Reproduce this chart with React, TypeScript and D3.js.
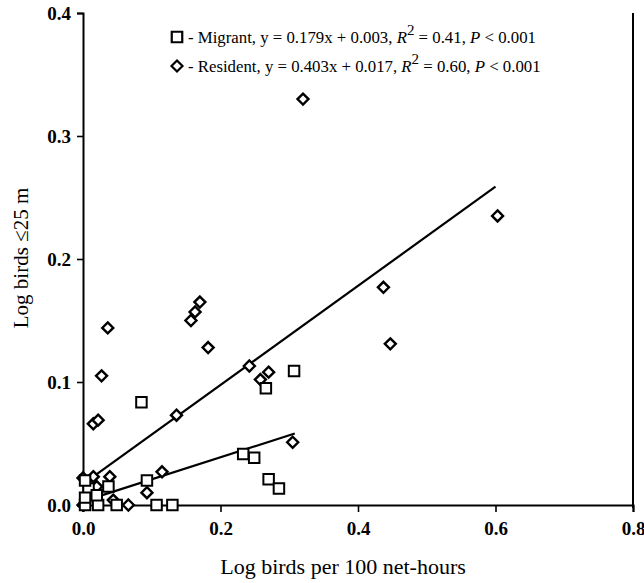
import { useEffect, useRef } from 'react';
import * as d3 from 'd3';

// Log birds per 100 net-hours (x) vs log birds <=25 m (y)
const migrantX = [0.085, 0.307, 0.266, 0.233, 0.249, 0.27, 0.285, 0.093, 0.107, 0.13, 0.049, 0.022, 0.003, 0.037, 0.008, 0.003, 0.02, 0.003];
const migrantY = [0.0835, 0.109, 0.095, 0.0415, 0.0385, 0.021, 0.0135, 0.02, 0.0, 0.0, 0.0, 0.0, 0.0, 0.015, 0.0135, 0.02, 0.008, 0.006];

const residentX = [0.32, 0.603, 0.437, 0.447, 0.036, 0.027, 0.157, 0.163, 0.17, 0.182, 0.242, 0.258, 0.27, 0.305, 0.015, 0.022, 0.136, 0.039, 0.115, 0.093, 0.066, 0.015, 0.0, 0.044, 0.0, 0.02];
const residentY = [0.33, 0.235, 0.177, 0.131, 0.144, 0.105, 0.15, 0.157, 0.165, 0.128, 0.113, 0.102, 0.108, 0.051, 0.066, 0.069, 0.073, 0.023, 0.027, 0.01, 0.0, 0.023, 0.022, 0.004, 0.0, 0.015];

// regression fits: [slope, intercept, xStart, xEnd]
const migrantFit = [0.179, 0.003, 0.01, 0.308];
const residentFit = [0.403, 0.017, 0.015, 0.6];

const xTicks = [0, 0.2, 0.4, 0.6, 0.8];
const yTicks = [0, 0.1, 0.2, 0.3, 0.4];

const FONT = '"Liberation Serif", "DejaVu Serif", serif';

export default function App() {
  const svgRef = useRef<SVGSVGElement>(null);
  const width = 644;
  const height = 583;

  useEffect(() => {
    if (!svgRef.current) return;
    const svg = d3.select(svgRef.current);
    svg.selectAll('*').remove();

    const margin = { top: 13, right: 11, bottom: 78, left: 83 };
    const innerWidth = width - margin.left - margin.right;
    const innerHeight = height - margin.top - margin.bottom;

    const g = svg.append('g').attr('transform', `translate(${margin.left},${margin.top})`);

    const x = d3.scaleLinear().domain([0, 0.8]).range([0, innerWidth]);
    const y = d3.scaleLinear().domain([0, 0.4]).range([innerHeight, 0]);

    // X axis
    const xAxis = g
      .append('g')
      .attr('transform', `translate(0,${innerHeight})`)
      .call(d3.axisBottom(x).tickValues(xTicks).tickFormat(d3.format('.1f')).tickSize(7).tickPadding(10));
    xAxis.selectAll('text').attr('font-family', FONT).attr('font-size', 19).attr('font-weight', 'bold').attr('fill', '#000');

    // Y axis
    const yAxis = g
      .append('g')
      .call(d3.axisLeft(y).tickValues(yTicks).tickFormat(d3.format('.1f')).tickSize(6).tickPadding(6));
    yAxis.selectAll('text').attr('font-family', FONT).attr('font-size', 19).attr('font-weight', 'bold').attr('fill', '#000');

    g.selectAll('.domain').attr('stroke', '#000').attr('stroke-width', 2);
    g.selectAll('.tick line').attr('stroke', '#000').attr('stroke-width', 1.6);

    // right frame
    g.append('line')
      .attr('x1', innerWidth)
      .attr('x2', innerWidth)
      .attr('y1', 0)
      .attr('y2', innerHeight + 3)
      .attr('stroke', '#000')
      .attr('stroke-width', 2);

    // fit lines
    [migrantFit, residentFit].forEach(([m, b, x0, x1]) => {
      g.append('line')
        .attr('x1', x(x0))
        .attr('y1', y(m * x0 + b))
        .attr('x2', x(x1))
        .attr('y2', y(m * x1 + b))
        .attr('stroke', '#000')
        .attr('stroke-width', 2.2);
    });

    const migrant = migrantX.map((v, i) => ({ x: v, y: migrantY[i] }));
    const resident = residentX.map((v, i) => ({ x: v, y: residentY[i] }));

    const square = d3.symbol().type(d3.symbolSquare).size(110);
    const diamond = 'M0,-5.5L5.5,0L0,5.5L-5.5,0Z';

    g.selectAll('path.res')
      .data(resident)
      .join('path')
      .attr('class', 'res')
      .attr('d', diamond)
      .attr('transform', (d) => `translate(${x(d.x)},${y(d.y)})`)
      .attr('fill', '#fff')
      .attr('stroke', '#000')
      .attr('stroke-width', 2.4);

    g.selectAll('path.mig')
      .data(migrant)
      .join('path')
      .attr('class', 'mig')
      .attr('d', square()!)
      .attr('transform', (d) => `translate(${x(d.x)},${y(d.y)})`)
      .attr('fill', '#fff')
      .attr('stroke', '#000')
      .attr('stroke-width', 2);

    // legend
    const legend = svg.append('g').attr('font-family', FONT).attr('font-size', 16.8).attr('fill', '#000');
    const rows = [
      { sym: 'square', label: 'Migrant', eq: '0.179x + 0.003', r2: '0.41' },
      { sym: 'diamond', label: 'Resident', eq: '0.403x + 0.017', r2: '0.60' },
    ];
    rows.forEach((r, i) => {
      const ly = 43 + i * 29;
      legend
        .append('path')
        .attr('d', r.sym === 'square' ? square()! : diamond)
        .attr('transform', `translate(177,${ly - 6})`)
        .attr('fill', '#fff')
        .attr('stroke', '#000')
        .attr('stroke-width', 2.2);
      const t = legend.append('text').attr('x', 188).attr('y', ly);
      t.append('tspan').text(`- ${r.label}, y = ${r.eq}, `);
      t.append('tspan').attr('font-style', 'italic').text('R');
      t.append('tspan').attr('dy', -8).attr('font-size', 15).text('2');
      t.append('tspan').attr('dy', 8).text(` = ${r.r2}, `);
      t.append('tspan').attr('font-style', 'italic').text('P');
      t.append('tspan').text(' < 0.001');
    });

    // axis titles
    svg
      .append('text')
      .attr('x', 343)
      .attr('y', 574)
      .attr('text-anchor', 'middle')
      .attr('font-family', FONT)
      .attr('font-size', 22)
      .text('Log birds per 100 net-hours');

    svg
      .append('text')
      .attr('transform', 'translate(28,258) rotate(-90)')
      .attr('text-anchor', 'middle')
      .attr('font-family', FONT)
      .attr('font-size', 21)
      .text('Log birds ≤25 m');
  }, []);

  return (
    <div style={{ position: 'absolute', left: 0, top: 0 }}>
      <svg ref={svgRef} width={width} height={height} style={{ display: 'block', background: '#fff' }} />
    </div>
  );
}
